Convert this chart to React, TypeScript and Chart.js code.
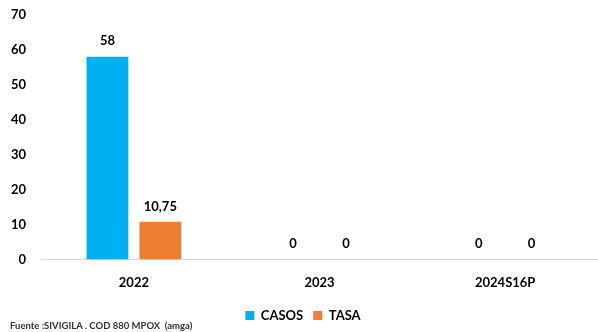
import React, { useEffect, useRef } from "react";
import { Chart, registerables } from "chart.js";

Chart.register(...registerables);

const categories = ["2022", "2023", "2024S16P"];
const casos = [58, 0, 0];
const tasa = [10.75, 0, 0];
const yTicksMax = 70;
const footerText = "Fuente :SIVIGILA . COD 880 MPOX  (amga)";

const FONT = "Lato, 'Open Sans', sans-serif";

const fmt = (v: number) => (Number.isInteger(v) ? String(v) : v.toFixed(2).replace(".", ","));

const valueLabels = {
  id: "valueLabels",
  afterDatasetsDraw(chart: any) {
    const ctx = chart.ctx;
    ctx.save();
    ctx.font = `bold 13px ${FONT}`;
    ctx.fillStyle = "#000";
    ctx.textAlign = "center";
    ctx.textBaseline = "bottom";
    chart.data.datasets.forEach((ds: any, i: number) => {
      const meta = chart.getDatasetMeta(i);
      meta.data.forEach((bar: any, j: number) => {
        ctx.fillText(fmt(ds.data[j]), bar.x, bar.y - 9);
      });
    });
    ctx.restore();
  },
};

export default function App() {
  const ref = useRef<HTMLCanvasElement>(null);
  useEffect(() => {
    const chart = new Chart(ref.current!, {
      type: "bar",
      data: {
        labels: categories,
        datasets: [
          { label: "CASOS", data: casos, backgroundColor: "#00B0F0" },
          { label: "TASA", data: tasa, backgroundColor: "#ED7D31" },
        ],
      },
      options: {
        animation: false,
        responsive: false,
        maintainAspectRatio: false,
        layout: { padding: { top: 2, left: 4, right: -4, bottom: 0 } },
        datasets: { bar: { categoryPercentage: 0.57, barPercentage: 0.79 } },
        scales: {
          x: {
            grid: { display: false },
            border: { display: true, color: "#D9D9D9" },
            ticks: { color: "#000", font: { family: FONT, size: 13, weight: "bold" }, padding: 8 },
          },
          y: {
            min: 0,
            max: yTicksMax,
            grid: { display: false },
            border: { display: false },
            ticks: { stepSize: 10, color: "#000", font: { family: FONT, size: 13, weight: "bold" }, padding: 7 },
          },
        },
        plugins: {
          legend: {
            position: "bottom",
            labels: {
              boxWidth: 9,
              boxHeight: 9,
              color: "#000",
              font: { family: FONT, size: 13, weight: "bold" },
              padding: 10,
            },
          },
          tooltip: { enabled: false },
        },
      },
      plugins: [valueLabels],
    });
    return () => chart.destroy();
  }, []);
  return (
    <div style={{ position: "fixed", left: 0, top: 0, width: 598, height: 332, background: "#fff" }}>
      <canvas ref={ref} width={598} height={332} style={{ display: "block" }} />
      <div
        style={{
          position: "absolute",
          left: 10,
          top: 320,
          fontFamily: FONT,
          fontWeight: "bold",
          fontSize: 9.5,
          color: "#333",
          whiteSpace: "pre",
          lineHeight: "11px",
        }}
      >
        {footerText}
      </div>
    </div>
  );
}
